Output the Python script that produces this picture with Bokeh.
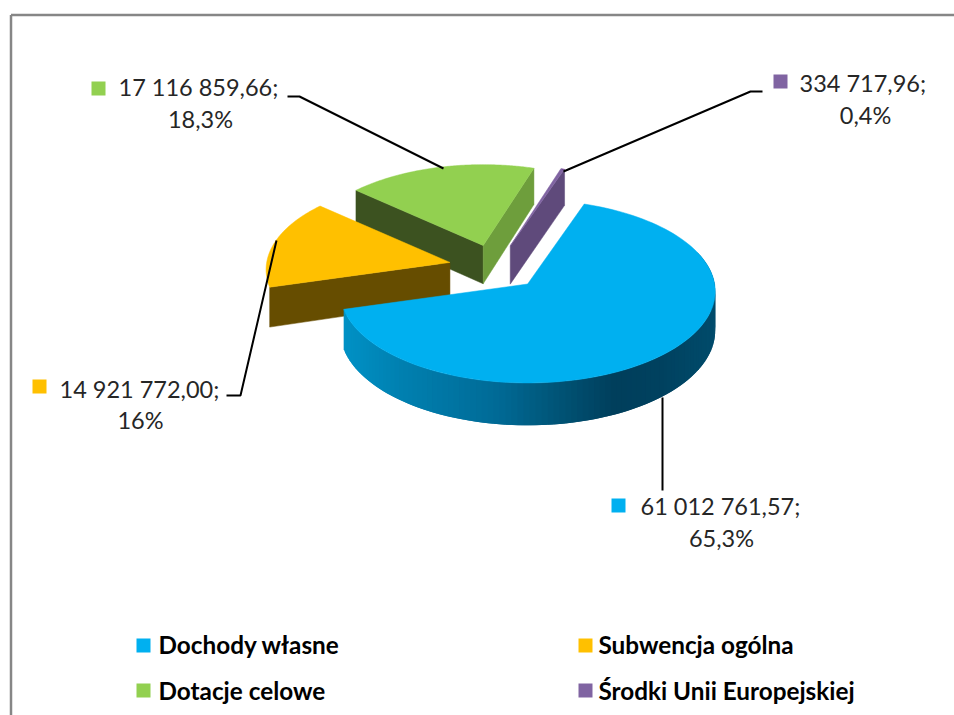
import numpy as np
from bokeh.plotting import figure
from bokeh.models import Range1d
from bokeh.core.properties import value
from bokeh.embed import file_html
from bokeh.resources import INLINE

# ---- data ----
categories = ["Dochody własne", "Subwencja ogólna", "Dotacje celowe", "Środki Unii Europejskiej"]
amounts = [61012761.57, 14921772.00, 17116859.66, 334717.96]
amount_labels = ["61 012 761,57;", "14 921 772,00;", "17 116 859,66;", "334 717,96;"]
percent_labels = ["65,3%", "16%", "18,3%", "0,4%"]
top_colors = ["#00B0F0", "#FFC000", "#92D050", "#8064A2"]

# ---- page-pixel coordinate system ----
W, H = 954, 715
p = figure(width=W, height=H, output_backend="svg", toolbar_location=None,
           x_range=Range1d(0, W), y_range=Range1d(H, 0),
           min_border=0, outline_line_color=None, background_fill_color="white",
           border_fill_color="white")
p.axis.visible = False
p.grid.visible = False

# ---- chart frame ----
FRAME = "#868686"
p.line([10.5, 10.5], [H, 14.5], line_color=FRAME, line_width=2.5)
p.line([10.5, W], [14.5, 14.5], line_color=FRAME, line_width=2.5)

# ---- pie geometry (angles clockwise from north) ----
START = 19.0
RX, RY, PERSP = 187.0, 91.0, 0.08
CX, CY = 495.0, 267.0
EXPL = 0.25
WALL = 39.0
SLICE_SCALE = [1.0, 0.98, 0.96, 0.96]

total = sum(amounts)
fr = np.array(amounts) / total
edges = START + np.concatenate([[0], np.cumsum(fr)]) * 360.0


def direction(deg):
    t = np.radians(deg)
    return np.sin(t), -np.cos(t)


def apex_of(i):
    u, v = direction((edges[i] + edges[i + 1]) / 2)
    return CX + EXPL * RX * u, CY + EXPL * RY * v


def rim(i, degs, drop=0.0):
    ax, ay = apex_of(i)
    scale = SLICE_SCALE[i]
    u, v = direction(np.asarray(degs, dtype=float))
    s = 1 / (1 - PERSP * v)
    return (ax + RX * u * s * scale, ay + RY * v * s * scale + drop * s)


def cut_wall(i, deg, color):
    ax, ay = apex_of(i)
    x0, y0 = rim(i, [deg])
    x1, y1 = rim(i, [deg], WALL)
    p.patch([ax, x0[0], x1[0], ax], [ay, y0[0], y1[0], ay + WALL * 0.98],
            fill_color=color, line_color=color, line_width=0.5)


def top_face(i):
    ax, ay = apex_of(i)
    degs = np.linspace(edges[i], edges[i + 1], 120)
    x, y = rim(i, degs)
    p.patch(np.r_[ax, x], np.r_[ay, y], fill_color=top_colors[i], line_color=top_colors[i], line_width=0.5)


# purple (back)
cut_wall(3, edges[4], "#5F4A7B")
top_face(3)
# green
cut_wall(2, edges[2], "#3C5220")
cut_wall(2, edges[3], "#6E9E3C")
top_face(2)
# orange
cut_wall(1, edges[1], "#664D00")
top_face(1)
# blue with a shaded outer wall: overlapping quads so no seams show
degs = np.linspace(edges[0] + 50, edges[1], 110)
xt, yt = rim(0, degs)
xb, yb = rim(0, degs, WALL)
stop_x = [342, 400, 490, 560, 612, 660, 715]
stops = np.array([[0, 146, 198], [0, 128, 176], [0, 108, 152], [0, 82, 116],
                  [0, 63, 92], [0, 66, 96], [0, 76, 108]], dtype=float)
xs, ys, cols = [], [], []
for k in range(len(degs) - 2):
    xs.append([xt[k], xt[k + 2], xb[k + 2], xb[k]])
    ys.append([yt[k], yt[k + 2], yb[k + 2], yb[k]])
    xm = xt[k + 1]
    rgb = [int(np.interp(xm, stop_x, stops[:, c])) for c in range(3)]
    cols.append("#%02X%02X%02X" % tuple(rgb))
p.patches(xs, ys, fill_color=cols, line_color=None)
top_face(0)

# ---- leader lines ----
lead = dict(line_color="#000000", line_width=2)
p.line([287, 299, 443], [96, 96, 168], **lead)
p.line([563, 750, 762], [171, 91, 91], **lead)
p.line([276, 240, 226], [240, 395, 395], **lead)
p.line([662, 662], [397, 490], **lead)

# ---- data labels ----
LABEL_FONT = value("Lato")
label_sq_x = [618, 39, 98, 780]
label_sq_y = [505, 386, 88, 81]
p.scatter(label_sq_x, label_sq_y, marker="square", size=14, fill_color=top_colors, line_color=None)
txt_left = [640, 59, 118, 799]
txt_y = [505, 388, 86, 82]
p.text(txt_left, txt_y, text=amount_labels, text_font=LABEL_FONT, text_font_size="23.5px",
       text_color="#262626", text_baseline="middle", text_align="left")
pct_x = [721, 140, 200, 865]
pct_y = [537, 419, 118, 114]
p.text(pct_x, pct_y, text=percent_labels, text_font=LABEL_FONT, text_font_size="23.5px",
       text_color="#262626", text_baseline="middle", text_align="center")

# ---- legend ----
leg_sq_x = [143, 585, 143, 585]
leg_sq_y = [645, 645, 690, 690]
p.scatter(leg_sq_x, leg_sq_y, marker="square", size=14, fill_color=top_colors, line_color=None)
leg_x = [158, 598, 158, 598]
leg_y = [644, 644, 690, 690]
p.text(leg_x, leg_y, text=categories, text_font=LABEL_FONT, text_font_size="24.3px",
       text_font_style="bold", text_color="#000000", text_baseline="middle", text_align="left")

open("out.html", "w").write(file_html(p, INLINE))
